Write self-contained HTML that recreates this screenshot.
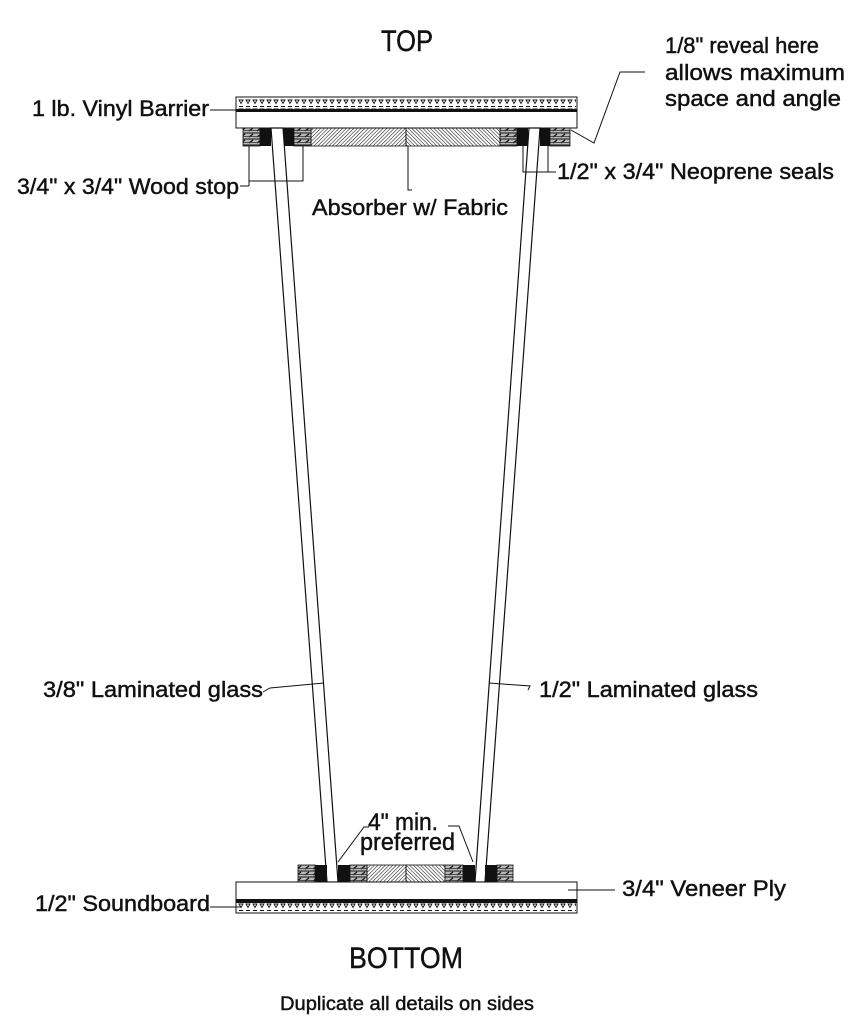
<!DOCTYPE html>
<html><head><meta charset="utf-8"><style>
html,body{margin:0;padding:0;background:#fff;}
svg{display:block;}
text{font-family:"Liberation Sans Narrow","Liberation Sans",sans-serif;fill:#111;stroke:#111;stroke-width:0.45;}
</style></head><body>
<svg width="848" height="1024" viewBox="0 0 848 1024" xmlns="http://www.w3.org/2000/svg">
<defs>
<pattern id="tri" width="7" height="9" patternUnits="userSpaceOnUse">
<path d="M1 1 L5 1 L3 4.5 Z" fill="none" stroke="#111" stroke-width="0.9"/>
<line x1="1" y1="7.5" x2="5" y2="7.5" stroke="#111" stroke-width="1"/>
</pattern>
<pattern id="tri2" width="7" height="9" patternUnits="userSpaceOnUse">
<line x1="1" y1="1.5" x2="5" y2="1.5" stroke="#111" stroke-width="1"/>
<path d="M1 4 L5 4 L3 7.5 Z" fill="none" stroke="#111" stroke-width="0.9"/>
</pattern>
<pattern id="wood" width="8" height="6" patternUnits="userSpaceOnUse">
<rect width="8" height="6" fill="#bbb"/>
<line x1="0" y1="1" x2="8" y2="1" stroke="#111" stroke-width="1"/>
<line x1="1" y1="5" x2="5" y2="2" stroke="#111" stroke-width="1.2"/>
<line x1="0" y1="4.5" x2="8" y2="4.5" stroke="#333" stroke-width="0.8"/>
</pattern>
<pattern id="habs" width="2.6" height="2.6" patternUnits="userSpaceOnUse" patternTransform="rotate(45)">
<line x1="0" y1="0" x2="0" y2="2.6" stroke="#111" stroke-width="1.1"/>
</pattern>
<pattern id="habs2" width="2.6" height="2.6" patternUnits="userSpaceOnUse" patternTransform="rotate(-45)">
<line x1="0" y1="0" x2="0" y2="2.6" stroke="#111" stroke-width="1.1"/>
</pattern>
</defs>

<rect x="236" y="97" width="341" height="31" fill="#fff" stroke="#111" stroke-width="1"/>
<rect x="237" y="98" width="339" height="11" fill="url(#tri)"/>
<rect x="236" y="109" width="341" height="3" fill="#111"/>
<rect x="243" y="128" width="17" height="18" fill="url(#wood)" stroke="#111" stroke-width="0.8"/>
<rect x="260" y="128" width="11" height="18" fill="#111"/>
<rect x="283" y="128" width="11" height="18" fill="#111"/>
<rect x="294" y="128" width="17" height="18" fill="url(#wood)" stroke="#111" stroke-width="0.8"/>
<rect x="311" y="128" width="95" height="18" fill="url(#habs)" stroke="#111" stroke-width="0.8"/>
<rect x="406" y="128" width="94" height="18" fill="url(#habs2)" stroke="#111" stroke-width="0.8"/>
<rect x="500" y="128" width="17" height="18" fill="url(#wood)" stroke="#111" stroke-width="0.8"/>
<rect x="517" y="128" width="11" height="18" fill="#111"/>
<rect x="540" y="128" width="10" height="18" fill="#111"/>
<rect x="550" y="128" width="20" height="18" fill="url(#wood)" stroke="#111" stroke-width="0.8"/>

<polygon points="271,128 283,128 338,882 327,882" fill="#fff" stroke="#111" stroke-width="1.2"/>
<polygon points="529,128 540,128 485,882 475,882" fill="#fff" stroke="#111" stroke-width="1.2"/>

<rect x="298" y="865" width="17" height="17" fill="url(#wood)" stroke="#111" stroke-width="0.8"/>
<rect x="315" y="865" width="12" height="17" fill="#111"/>
<rect x="338" y="865" width="12" height="17" fill="#111"/>
<rect x="350" y="865" width="17" height="17" fill="url(#wood)" stroke="#111" stroke-width="0.8"/>
<rect x="367" y="865" width="39" height="17" fill="url(#habs)" stroke="#111" stroke-width="0.8"/>
<rect x="406" y="865" width="39" height="17" fill="url(#habs2)" stroke="#111" stroke-width="0.8"/>
<rect x="445" y="865" width="18" height="17" fill="url(#wood)" stroke="#111" stroke-width="0.8"/>
<rect x="463" y="865" width="12" height="17" fill="#111"/>
<rect x="485" y="865" width="12" height="17" fill="#111"/>
<rect x="497" y="865" width="16" height="17" fill="url(#wood)" stroke="#111" stroke-width="0.8"/>
<rect x="236" y="882" width="341" height="31" fill="#fff" stroke="#111" stroke-width="1"/>
<rect x="236" y="899" width="341" height="4" fill="#111"/>
<rect x="237" y="903" width="339" height="9" fill="url(#tri2)"/>

<g stroke="#111" stroke-width="1" fill="none">
<line x1="210" y1="110" x2="236" y2="110"/>
<polyline points="249,146 249,181 303,181 303,146"/>
<line x1="240" y1="186" x2="249" y2="186"/>
<polyline points="249,181 249,186"/>
<polyline points="408,146 408,190 412,190"/>
<polyline points="523,146 523,172 556,172"/>
<line x1="548" y1="146" x2="548" y2="172"/>
<polyline points="571,130 594,143 620,72 645,72"/>
<polyline points="263,692 270,688 324,683"/>
<polyline points="489,683 530,686 528,690"/>
<polyline points="338,862 364,827 369,827"/>
<polyline points="473,862 459,826 448,826"/>
<line x1="568" y1="890" x2="615" y2="890"/>
<polyline points="210,907 241,907"/>
</g>

<text x="381" y="51" font-size="30" textLength="52" lengthAdjust="spacingAndGlyphs">TOP</text>
<text x="665" y="53" font-size="22" textLength="154" lengthAdjust="spacingAndGlyphs">1/8" reveal here</text>
<text x="665" y="80" font-size="22" textLength="180" lengthAdjust="spacingAndGlyphs">allows maximum</text>
<text x="665" y="106" font-size="22" textLength="176" lengthAdjust="spacingAndGlyphs">space and angle</text>
<text x="32" y="116" font-size="22" textLength="177" lengthAdjust="spacingAndGlyphs">1 lb. Vinyl Barrier</text>
<text x="17" y="194" font-size="22" textLength="222" lengthAdjust="spacingAndGlyphs">3/4" x 3/4" Wood stop</text>
<text x="312" y="215" font-size="22" textLength="196" lengthAdjust="spacingAndGlyphs">Absorber w/ Fabric</text>
<text x="557" y="179" font-size="22" textLength="277" lengthAdjust="spacingAndGlyphs">1/2" x 3/4" Neoprene seals</text>
<text x="43" y="697" font-size="22" textLength="220" lengthAdjust="spacingAndGlyphs">3/8" Laminated glass</text>
<text x="539" y="697" font-size="22" textLength="219" lengthAdjust="spacingAndGlyphs">1/2" Laminated glass</text>
<text x="368" y="830" font-size="24" textLength="70" lengthAdjust="spacingAndGlyphs">4" min.</text>
<text x="360" y="850" font-size="24" textLength="95" lengthAdjust="spacingAndGlyphs">preferred</text>
<text x="622" y="896" font-size="22" textLength="164" lengthAdjust="spacingAndGlyphs">3/4" Veneer Ply</text>
<text x="35" y="911" font-size="22" textLength="175" lengthAdjust="spacingAndGlyphs">1/2" Soundboard</text>
<text x="349" y="968" font-size="30" textLength="114" lengthAdjust="spacingAndGlyphs">BOTTOM</text>
<text x="280" y="1010" font-size="19" textLength="254" lengthAdjust="spacingAndGlyphs">Duplicate all details on sides</text>
</svg>
</body></html>
